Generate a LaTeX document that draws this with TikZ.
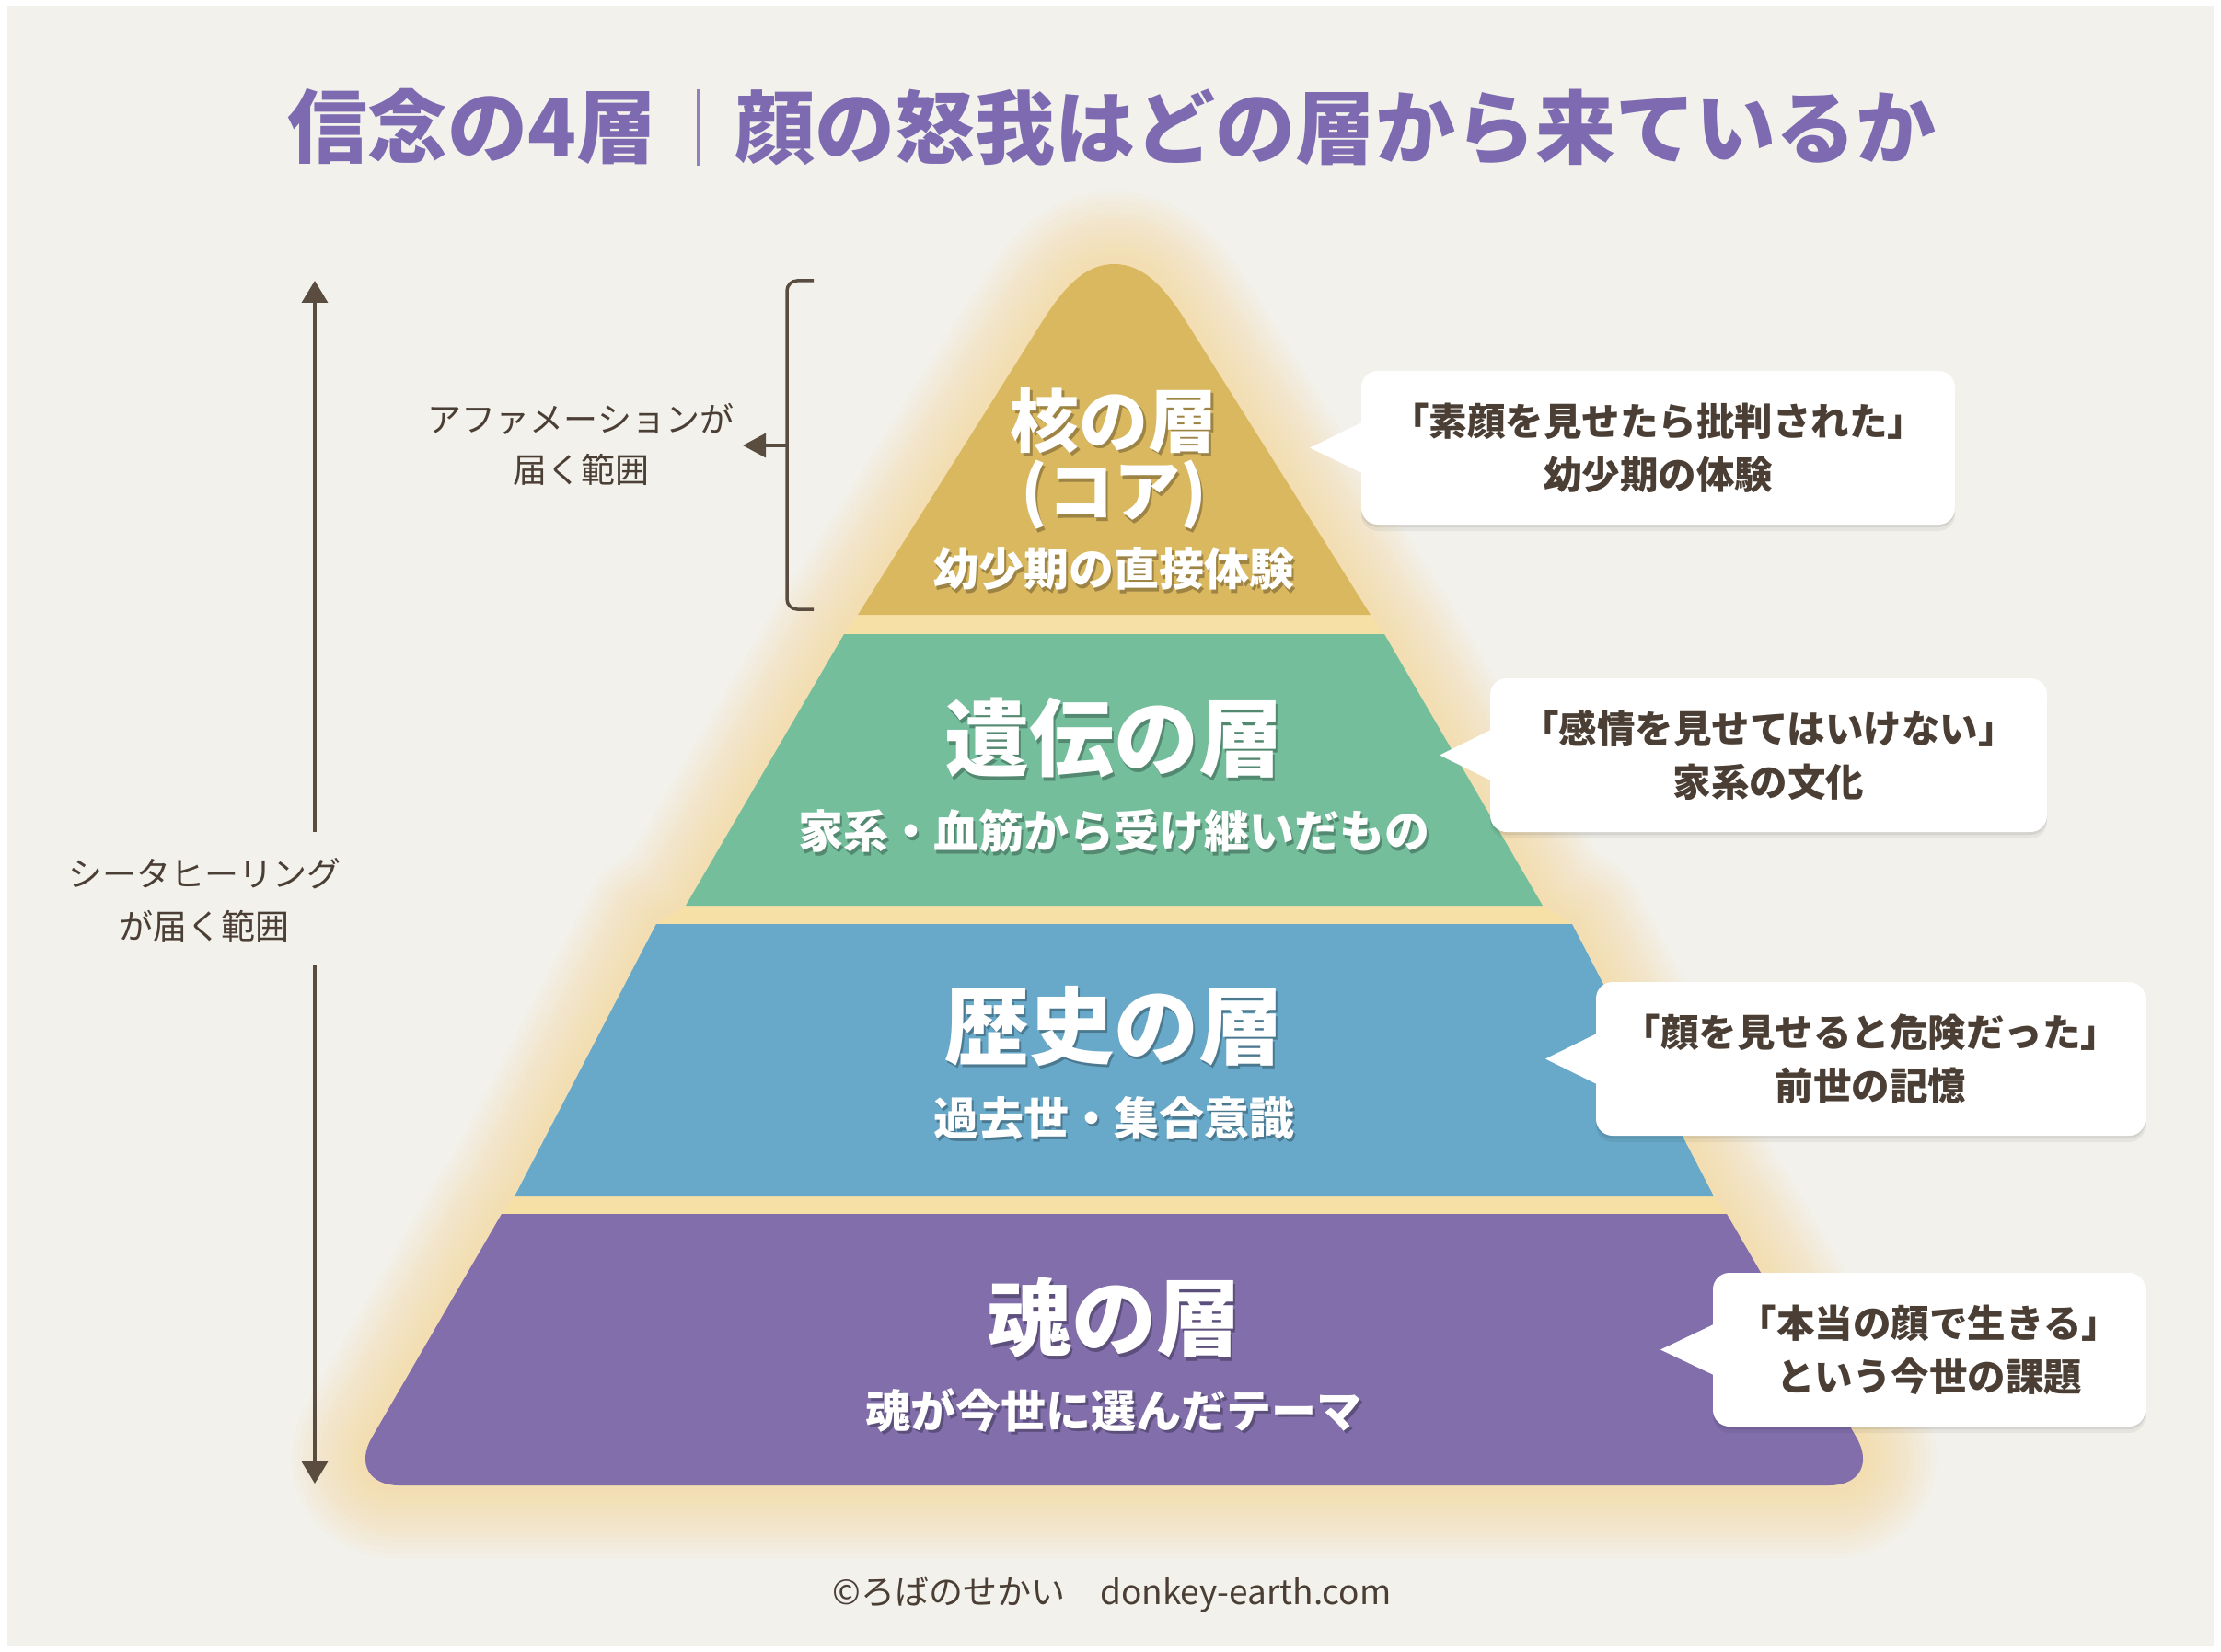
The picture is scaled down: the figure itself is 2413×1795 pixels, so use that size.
\documentclass[tikz,border=0pt]{standalone}
\usepackage{fontspec}
\setmainfont{Noto Sans CJK JP}
\usetikzlibrary{arrows.meta,calc,shadows}
\definecolor{bg}{HTML}{F2F1EC}
\definecolor{txt}{HTML}{4B3F35}
\definecolor{arrowc}{HTML}{5A4D40}
\definecolor{titlec}{HTML}{7D6AB0}
\definecolor{corec}{HTML}{DAB860}
\definecolor{greenc}{HTML}{74BE9C}
\definecolor{bluec}{HTML}{68A8C8}
\definecolor{purplec}{HTML}{816EAB}
\definecolor{gapc}{HTML}{F7E0A6}
\definecolor{glowc}{HTML}{F6D27E}
\tikzset{
  titletext/.style={text=titlec, inner sep=0pt, font=\bfseries\fontsize{87}{100}\selectfont},
  sidelabel/.style={text=txt, inner sep=0pt, align=center},
  arrowline/.style={draw=arrowc, line width=3.5pt},
  bubble/.style={fill=white, rounded corners=18pt, inner sep=0pt, align=center, text=txt,
    minimum height=167pt, font=\bfseries\fontsize{41.5}{58}\selectfont,
    drop shadow={shadow xshift=0pt, shadow yshift=-7pt, opacity=0.05, fill=black},
    drop shadow={shadow xshift=0pt, shadow yshift=-3pt, opacity=0.07, fill=black}},
  pointer/.style={fill=white},
  whitetxt/.style={text=white, inner sep=0pt, align=center},
  shadowtxt/.style={text=black, opacity=0.28, inner sep=0pt, align=center},
}
\newcommand\layertxt[5]{%
  \node[shadowtxt, font=\bfseries\fontsize{#4}{#4}\selectfont] (#1s) at (#2+2.5,#3+3.5) {#5};
  \node[whitetxt, font=\bfseries\fontsize{#4}{#4}\selectfont] (#1) at (#2,#3) {#5};
}
\begin{document}
\begin{tikzpicture}[x=1pt,y=-1pt]
\useasboundingbox (0,0) rectangle (2413,1795);
\fill[white] (0,0) rectangle (2413,1795);
\fill[bg] (8,6) rectangle (2405,1789);

% ---- title
\node[titletext] (titleL) at (513,138) {信念の4層};
\node[titletext] (titleR) at (1451,138) {顔の怒我はどの層から来ているか};
\coordinate (div1) at (758,97);
\coordinate (div2) at (758,180);
\draw[titlec!85, line width=3pt] (div1) -- (div2);

% ---- glow around the pyramid
\foreach \w in {160,148,136,124,112,100,88,76,64,52,40,28,16} {
\draw[glowc, line width=\w pt, opacity=0.05, line join=round]
 (932,668) -- (917,689) -- (745,984) -- (713,1004) -- (559,1300) -- (545,1319) -- (404,1562)
 .. controls (387.5,1590.6) and (401,1614) .. (434,1614) -- (1987,1614)
 .. controls (2020,1614) and (2033.5,1590.6) .. (2017,1562) -- (1876,1319) -- (1862,1300)
 -- (1708,1004) -- (1676,984) -- (1504,689) -- (1489,668) -- (1289,350)
 .. controls (1264,310) and (1241,287) .. (1210.5,287)
 .. controls (1180,287) and (1157,310) .. (1132,350) -- cycle;
}
% gap colour under the layers
\fill[gapc]
 (932,668) -- (917,689) -- (745,984) -- (713,1004) -- (559,1300) -- (545,1319) -- (404,1562)
 .. controls (387.5,1590.6) and (401,1614) .. (434,1614) -- (1987,1614)
 .. controls (2020,1614) and (2033.5,1590.6) .. (2017,1562) -- (1876,1319) -- (1862,1300)
 -- (1708,1004) -- (1676,984) -- (1504,689) -- (1489,668) -- (1289,350)
 .. controls (1264,310) and (1241,287) .. (1210.5,287)
 .. controls (1180,287) and (1157,310) .. (1132,350) -- cycle;

% ---- layers
\fill[corec] (932,668) -- (1132,350) .. controls (1157,310) and (1180,287) .. (1210.5,287)
 .. controls (1241,287) and (1264,310) .. (1289,350) -- (1489,668) -- cycle;
\fill[greenc] (917,689) -- (1504,689) -- (1676,984) -- (745,984) -- cycle;
\fill[bluec] (713,1004) -- (1708,1004) -- (1862,1300) -- (559,1300) -- cycle;
\fill[purplec] (545,1319) -- (1876,1319) -- (2017,1562)
 .. controls (2033.5,1590.6) and (2020,1614) .. (1987,1614) -- (434,1614)
 .. controls (401,1614) and (387.5,1590.6) .. (404,1562) -- cycle;

% ---- layer texts
\layertxt{coreA}{1210}{457}{75}{核の層}
\layertxt{coreB}{1210}{538}{72}{(コア)}
\layertxt{coreC}{1210}{618}{49}{幼少期の直接体験}
\layertxt{genA}{1210}{802}{92}{遺伝の層}
\layertxt{genB}{1210}{903}{49}{家系・血筋から受け継いだもの}
\layertxt{hisA}{1210}{1115}{92}{歴史の層}
\layertxt{hisB}{1210}{1215}{49}{過去世・集合意識}
\layertxt{soulA}{1210}{1432}{92}{魂の層}
\layertxt{soulB}{1210}{1532}{49}{魂が今世に選んだテーマ}

% ---- bubbles
\node[bubble, minimum width=645pt] (b1) at (1801.5,486.5) {「素顔を見せたら批判された」\\幼少期の体験};
\node[bubble, minimum width=605pt] (b2) at (1921.5,820.5) {「感情を見せてはいけない」\\家系の文化};
\node[bubble, minimum width=597pt] (b3) at (2032.5,1150.5) {「顔を見せると危険だった」\\前世の記憶};
\node[bubble, minimum width=470pt] (b4) at (2096,1466.5) {「本当の顔で生きる」\\という今世の課題};
\coordinate (t1) at (1423,486.5);
\coordinate (t2) at (1564,820.5);
\coordinate (t3) at (1679,1150.5);
\coordinate (t4) at (1804,1466.5);
\fill[pointer] ([xshift=2pt,yshift=28pt]b1.west) -- (t1) -- ([xshift=2pt,yshift=-28pt]b1.west) -- cycle;
\fill[pointer] ([xshift=2pt,yshift=28pt]b2.west) -- (t2) -- ([xshift=2pt,yshift=-28pt]b2.west) -- cycle;
\fill[pointer] ([xshift=2pt,yshift=28pt]b3.west) -- (t3) -- ([xshift=2pt,yshift=-28pt]b3.west) -- cycle;
\fill[pointer] ([xshift=2pt,yshift=28pt]b4.west) -- (t4) -- ([xshift=2pt,yshift=-28pt]b4.west) -- cycle;

% ---- left: theta healing range
\node[sidelabel, font=\fontsize{37}{57}\selectfont] (shita) at (222,978) {シータヒーリング\\が届く範囲};
\coordinate (vtop) at (342,305);
\coordinate (vbot) at (342,1612);
\coordinate (vgap1) at (342,904);
\coordinate (vgap2) at (342,1049);
\draw[arrowline, -{Triangle[width=28pt,length=24pt]}] (vgap1) -- (vtop);
\draw[arrowline, -{Triangle[width=28pt,length=24pt]}] (vgap2) -- (vbot);

% ---- affirmation bracket
\node[sidelabel, font=\fontsize{37}{55}\selectfont] (aff) at (631,483) {アファメーションが\\届く範囲};
\coordinate (bk1) at (884,305);
\coordinate (bk2) at (884,662);
\coordinate (bkc1) at (855,305);
\coordinate (bkc2) at (855,662);
\draw[arrowline, rounded corners=11pt] (bk1) -- (bkc1) -- (bkc2) -- (bk2);
\coordinate (bmid) at (855,484);
\coordinate (atip) at (807,484);
\draw[arrowline, -{Triangle[width=26pt,length=25pt]}] (bmid) -- (atip);

% ---- footer
\node[sidelabel, font=\fontsize{37}{40}\selectfont] (foot) at (1208,1733) {©ろばのせかい\hspace{38pt}donkey-earth.com};
\end{tikzpicture}
\end{document}
